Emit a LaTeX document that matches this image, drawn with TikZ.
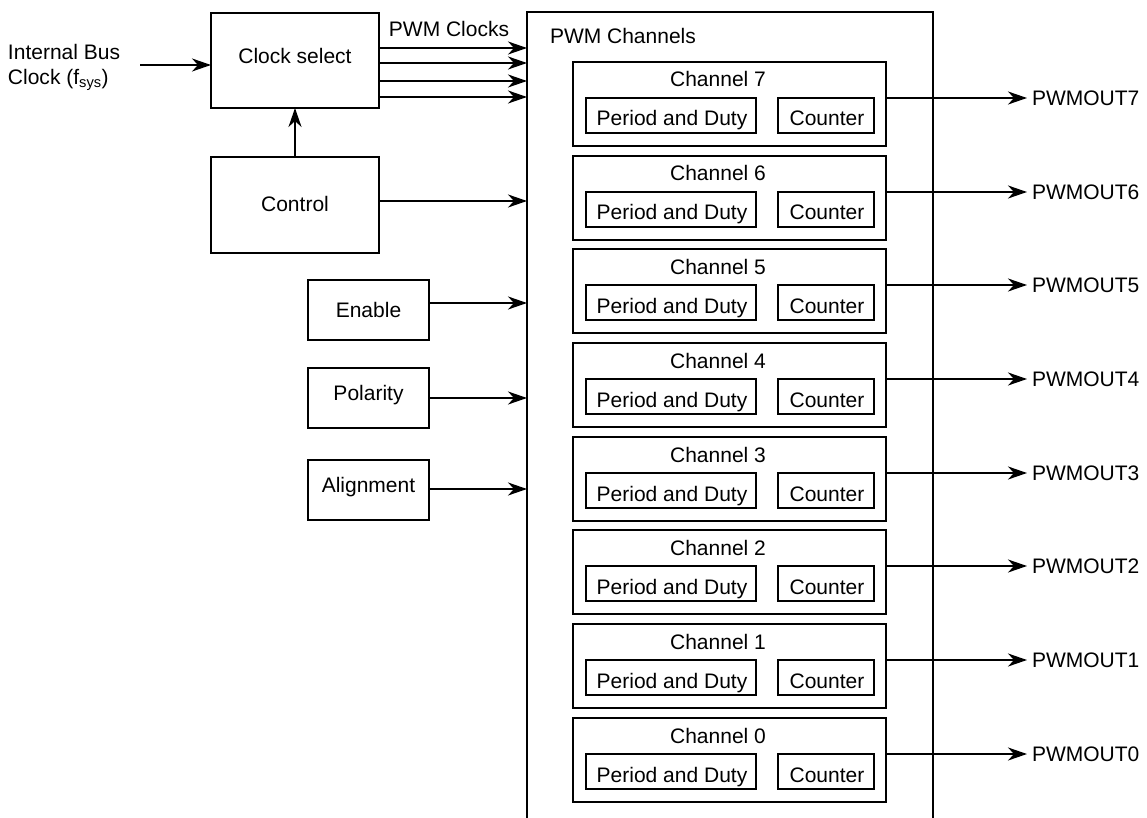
\documentclass[tikz,border=0pt]{standalone}
\usepackage{fontspec}
\setmainfont{Liberation Sans}
\usetikzlibrary{arrows.meta}
\begin{document}
\begin{tikzpicture}[x=1pt,y=-1pt,
  every node/.style={font=\fontsize{21}{25}\selectfont, inner sep=0pt, outer sep=0pt},
  box/.style={draw, line width=2pt},
  arr/.style={line width=2pt, -{Stealth[length=19pt,width=13pt,inset=6pt]}},
  frame/.style={line width=2pt}]
\useasboundingbox (0,0) rectangle (1147,818);

% left side
\node[anchor=west, align=left] (ib) at (8,67.5) {Internal Bus\\Clock (f\textsubscript{sys})};
\coordinate (inbus) at (140,65);
\node[box, minimum width=168pt, minimum height=95pt] (cs) at (295,60.5) {};
\node[anchor=base] (cstxt) at (295,64) {Clock select};
\node[box, minimum width=168pt, minimum height=96pt] (ctl) at (295,205) {};
\node[anchor=base] (ctltxt) at (295,212) {Control};
\node[box, minimum width=121pt, minimum height=60pt] (en) at (368.5,310) {};
\node[anchor=base] (entxt) at (368.5,317) {Enable};
\node[box, minimum width=121pt, minimum height=60pt] (pol) at (368.5,398) {};
\node[anchor=base] (poltxt) at (368.5,400) {Polarity};
\node[box, minimum width=121pt, minimum height=60pt] (al) at (368.5,490) {};
\node[anchor=base] (altxt) at (368.5,492) {Alignment};

% main frame (open bottom)
\node[minimum width=406pt, minimum height=806pt] (main) at (730,415) {};
\draw[frame] (main.south west) -- (main.north west) -- (main.north east) -- (main.south east);
\node[anchor=base west] (pwmch) at (550,44) {PWM Channels};
\node[anchor=base] (pwmclk) at (449,37) {PWM Clocks};

% connectors on the left
\draw[arr] (inbus) -- (cs.west |- inbus);
\draw[arr] (ctl.north) -- (cs.south);
\foreach \yy in {48,63,81,97}{
  \draw[arr] (cs.east |- 0,\yy) -- (main.west |- 0,\yy);
}
\draw[arr] (ctl.east |- 0,201) -- (main.west |- 0,201);
\draw[arr] (en.east |- 0,303) -- (main.west |- 0,303);
\draw[arr] (pol.east |- 0,398) -- (main.west |- 0,398);
\draw[arr] (al.east |- 0,489) -- (main.west |- 0,489);

% channels
\foreach \k in {7,6,...,0}{
  \pgfmathsetmacro\t{round(62+(7-\k)*93.7)}
  \node[box, minimum width=313pt, minimum height=84pt] (ch\k) at (729.5,\t+42) {};
  \node[anchor=base] (cht\k) at (718,\t+25) {Channel \k};
  \node[box, minimum width=170pt, minimum height=35pt] (pd\k) at (671,\t+53.5) {};
  \node[anchor=base] (pdt\k) at (672,\t+64) {Period and Duty};
  \node[box, minimum width=96pt, minimum height=35pt] (cn\k) at (826,\t+53.5) {};
  \node[anchor=base] (cnt\k) at (827,\t+64) {Counter};
  \coordinate (oe\k) at (1027,\t+36);
  \draw[arr] (ch\k.east |- cn\k.north) -- (oe\k);
  \node[anchor=west] (out\k) at ([xshift=5pt]oe\k) {PWMOUT\k};
}
\end{tikzpicture}
\end{document}
